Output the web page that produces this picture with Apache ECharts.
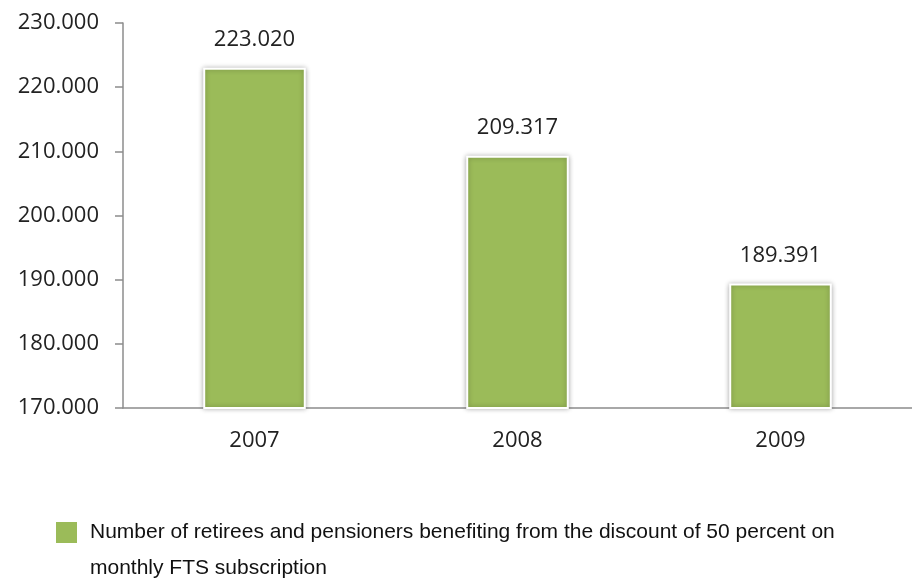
<!DOCTYPE html>
<html>
<head>
    <meta http-equiv="Content-Type" content="text/html; charset=utf-8" />
    <title>Retirees and pensioners - FTS discount</title>
    <script src="https://cdn.jsdelivr.net/npm/echarts@6/dist/echarts.min.js"></script>
</head>
<body style="margin:0;padding:0;">
    <div id="area1" style="width:912px;height:578px;background:#ffffff;"></div>
    <script type="text/javascript">
        // data
        var years = ['2007', '2008', '2009'];
        var beneficiaries = [223020, 209317, 189391];
        var seriesName = 'Number of retirees and pensioners benefiting from the discount of 50 percent on monthly FTS subscription';

        // 223020 -> "223.020"
        function fmt(v) {
            return (v / 1000).toFixed(3);
        }

        var chart = echarts.init(document.getElementById('area1'));
        var option = {
            backgroundColor: '#ffffff',
            animation: false,
            grid: {
                left: 123,
                right: -12,
                top: 23,
                bottom: 170
            },
            legend: {
                left: 51,
                top: 509,
                itemWidth: 29,
                itemHeight: 56,
                // square sits at the top of a tall icon box so it lines up with the first text line
                icon: 'path://M0,0h21v21h-21z M28.99,55.99h0.01v0.01h-0.01z',
                itemStyle: { borderWidth: 0, shadowBlur: 0 },
                data: [seriesName],
                formatter: function (name) {
                    var cut = name.indexOf(' monthly');
                    return name.substring(0, cut) + '\n' + name.substring(cut + 1);
                },
                textStyle: {
                    fontFamily: 'Liberation Sans',
                    fontSize: 21,
                    color: '#111111',
                    lineHeight: 36
                }
            },
            xAxis: {
                type: 'category',
                data: years,
                axisLine: { lineStyle: { color: '#8c8c8c', width: 1.5 } },
                axisTick: { length: 8, lineStyle: { color: '#8c8c8c', width: 1.5 } },
                axisLabel: {
                    margin: 22,
                    fontFamily: 'Open Sans',
                    fontSize: 22,
                    color: '#222222'
                }
            },
            yAxis: {
                type: 'value',
                min: 170000,
                max: 230000,
                interval: 10000,
                splitLine: { show: false },
                axisLine: { show: true, lineStyle: { color: '#8c8c8c', width: 1.5 } },
                axisTick: { show: true, length: 8, lineStyle: { color: '#8c8c8c', width: 1.5 } },
                axisLabel: {
                    margin: 24,
                    fontFamily: 'Open Sans',
                    fontSize: 22,
                    color: '#222222',
                    formatter: fmt
                }
            },
            series: [{
                name: seriesName,
                type: 'bar',
                data: beneficiaries,
                barWidth: '39%',
                itemStyle: {
                    color: '#9bbb59',
                    borderColor: '#ffffff',
                    borderWidth: 2,
                    shadowBlur: 5,
                    shadowColor: 'rgba(0,0,0,0.3)'
                },
                label: {
                    show: true,
                    position: 'top',
                    distance: 17,
                    fontFamily: 'Open Sans',
                    fontSize: 22,
                    color: '#222222',
                    formatter: function (p) { return fmt(p.value); }
                }
            }]
        };
        chart.setOption(option);
    </script>
</body>
</html>
